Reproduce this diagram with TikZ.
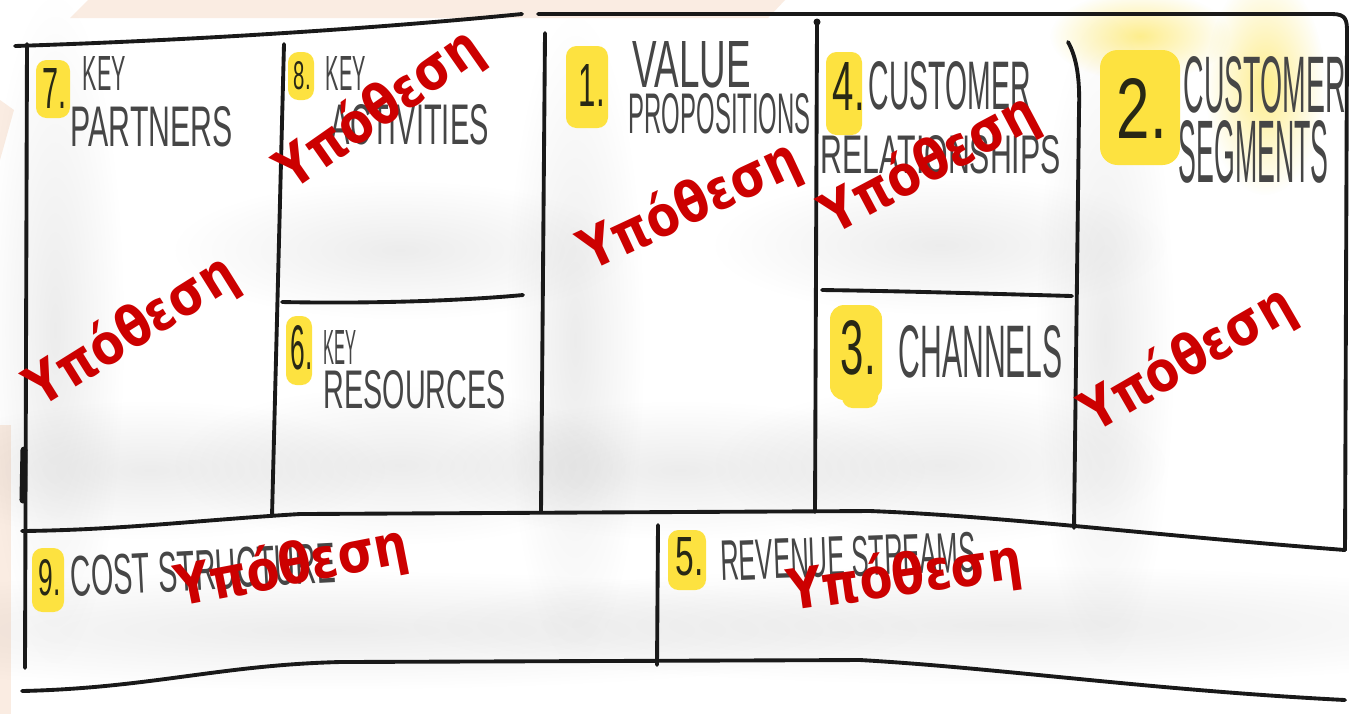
\documentclass[tikz,border=0pt]{standalone}
\usepackage{fontspec}
\usetikzlibrary{fadings}
\newfontfamily\hypfont{DejaVu Sans}[FakeStretch=0.85]
\newfontfamily\handfont{Liberation Sans}
\newlength{\px}\setlength{\px}{0.01cm}
% hand lettering boxed to a given width and cap height (in px)
\newcommand{\hand}[3]{\resizebox{#1\px}{#2\px}{\handfont #3}}
\definecolor{peach}{RGB}{250,236,226}
\definecolor{hilite}{RGB}{253,226,64}
\definecolor{hypred}{RGB}{204,0,0}
\definecolor{ink}{RGB}{25,25,25}
\definecolor{pencil}{RGB}{70,70,70}
\tikzfading[name=softspot, inner color=transparent!0, outer color=transparent!100]

\begin{document}
\begin{tikzpicture}[x=0.01cm, y=-0.01cm,
  frame/.style={draw=ink, line width=1.1pt, line cap=round, line join=round},
  marker/.style={fill=hilite, rounded corners=3pt},
  lbl/.style={inner sep=0, anchor=west, text=pencil},
  num/.style={inner sep=0, anchor=west, text=ink!85!olive},
  hyp/.style={inner sep=0, text=hypred, font=\hypfont\bfseries\fontsize{16}{16}\selectfont},
  smudge/.style={fill=black, opacity=0.075, path fading=softspot},
  glow/.style={fill=hilite, opacity=0.6, path fading=softspot}]

\useasboundingbox (0,0) rectangle (1349,714);
\fill[white] (0,0) rectangle (1349,714);

% peach slide background showing at the edges
\fill[peach] (70,18) -- (88,0) -- (785,0) -- (768,18) -- cycle;
\fill[peach] (0,100) -- (14,110) -- (0,160) -- cycle;
\fill[peach] (0,425) rectangle (11,714);

% pencil shading inside the boxes
\fill[smudge] (55,330) ellipse [x radius=70, y radius=340];
\fill[smudge] (150,470) ellipse [x radius=240, y radius=70];
\fill[smudge] (400,250) ellipse [x radius=230, y radius=70];
\fill[smudge] (400,465) ellipse [x radius=230, y radius=80];
\fill[smudge] (575,340) ellipse [x radius=70, y radius=330];
\fill[smudge] (680,470) ellipse [x radius=250, y radius=70];
\fill[smudge] (940,245) ellipse [x radius=230, y radius=70];
\fill[smudge] (940,465) ellipse [x radius=230, y radius=80];
\fill[smudge] (1105,340) ellipse [x radius=70, y radius=330];
\fill[smudge] (330,630) ellipse [x radius=600, y radius=60];
\fill[smudge] (1000,625) ellipse [x radius=600, y radius=60];

% yellow glow behind the customer segments heading
\fill[glow] (1140,36) ellipse [x radius=90, y radius=45];
\fill[glow] (1265,85) ellipse [x radius=60, y radius=110];

% highlighter marks behind the numbers
\fill[marker] (36,60) rectangle (70,118);
\fill[marker] (288,52) rectangle (314,100);
\fill[marker] (566,46) rectangle (608,128);
\fill[marker] (826,52) rectangle (862,135);
\fill[marker, rounded corners=5pt] (1100,50) rectangle (1180,165);
\fill[marker] (286,316) rectangle (312,385);
\fill[marker, rounded corners=4pt] (830,305) rectangle (882,400);
\fill[marker] (842,385) rectangle (878,408);
\fill[marker] (32,548) rectangle (64,612);
\fill[marker] (668,530) rectangle (706,590);

% canvas frame and dividers
\draw[frame] (15,46) .. controls (200,40) and (380,28) .. (522,14);
\draw[frame] (538,14) -- (1332,14) .. controls (1346,14) and (1347,20) .. (1347,32) -- (1345,550);
\draw[frame] (27,44) -- (25,668);
\draw[frame, line width=2pt] (24,450) -- (23,500);
\draw[frame] (284,44) -- (272,516);
\draw[frame] (545,33) -- (541,512);
\draw[frame] (817,24) -- (815,512);
\fill[ink] (817,22) circle [radius=3.5];
\draw[frame] (1068,42) .. controls (1077,58) and (1080,80) .. (1079,110) -- (1074,528);
\draw[frame] (282,302) .. controls (380,304) and (470,300) .. (523,295);
\draw[frame] (822,290) .. controls (900,291) and (1000,294) .. (1072,296);
\draw[frame] (22,531) .. controls (120,530) and (200,520) .. (300,514) -- (870,511)
  .. controls (1000,516) and (1150,535) .. (1345,550);
\draw[frame] (658,525) -- (657,665);
\draw[frame] (22,691) .. controls (150,688) and (220,665) .. (340,662) -- (860,660)
  .. controls (1000,668) and (1150,690) .. (1345,700);

% headings
\node[num] (n7) at (42,88) {\hand{24}{40}{7.}};
\node[lbl] (kp1) at (82,73) {\hand{43}{34}{KEY}};
\node[lbl] (kp2) at (70,127) {\hand{162}{40}{PARTNERS}};

\node[num] (n8) at (293,76) {\hand{17}{28}{8.}};
\node[lbl] (ka1) at (325,73) {\hand{40}{34}{KEY}};
\node[lbl] (ka2) at (330,125) {\hand{158}{40}{ACTIVITIES}};

\node[num] (n1) at (578,85) {\hand{26}{42}{1.}};
\node[lbl] (vp1) at (632,65) {\hand{118}{46}{VALUE}};
\node[lbl] (vp2) at (628,114) {\hand{182}{40}{PROPOSITIONS}};

\node[num] (n4) at (832,86) {\hand{32}{48}{4.}};
\node[lbl] (cr1) at (868,86) {\hand{162}{48}{CUSTOMER}};
\node[lbl] (cr2) at (820,155) {\hand{240}{38}{RELATIONSHIPS}};

\node[num] (n2) at (1116,108) {\hand{50}{60}{2.}};
\node[lbl] (cs1) at (1183,85) {\hand{162}{56}{CUSTOMER}};
\node[lbl] (cs2) at (1178,152) {\hand{150}{62}{SEGMENTS}};

\node[num] (n6) at (290,348) {\hand{22}{44}{6.}};
\node[lbl] (kr1) at (323,347) {\hand{33}{34}{KEY}};
\node[lbl] (kr2) at (323,390) {\hand{182}{38}{RESOURCES}};

\node[num] (n3) at (840,348) {\hand{35}{54}{3.}};
\node[lbl] (ch1) at (898,352) {\hand{164}{52}{CHANNELS}};

\node[num] (n9) at (38,578) {\hand{22}{36}{9.}};
\node[lbl, rotate=3] (cost) at (70,577) {\hand{265}{40}{COST STRUCTURE}};

\node[num] (n5) at (675,557) {\hand{28}{38}{5.}};
\node[lbl, rotate=2] (rev) at (720,561) {\hand{255}{40}{REVENUE STREAMS}};

% hypothesis stamps
\node[hyp, rotate=32] (h7) at (132,332) {Υπόθεση};
\node[hyp, rotate=35] (h8) at (380,110) {Υπόθεση};
\node[hyp, rotate=25] (h1) at (690,207) {Υπόθεση};
\node[hyp, rotate=28] (h4) at (930,165) {Υπόθεση};
\node[hyp, rotate=30] (h2) at (1188,360) {Υπόθεση};
\node[hyp, rotate=11] (h9) at (292,568) {Υπόθεση};
\node[hyp, rotate=8] (h5) at (905,578) {Υπόθεση};
\end{tikzpicture}
\end{document}
